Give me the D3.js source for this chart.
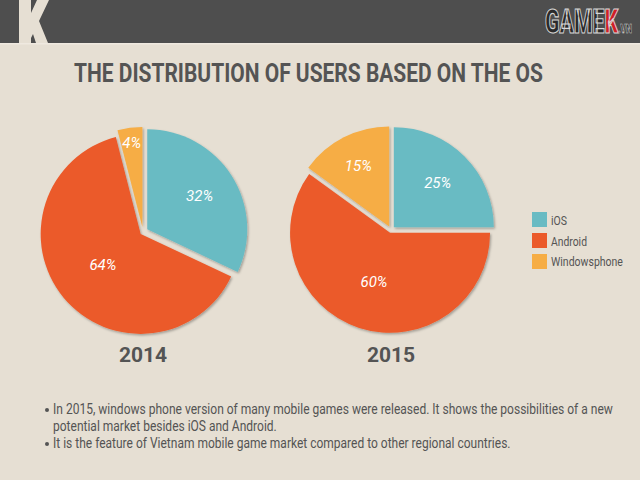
<!DOCTYPE html>
<html><head><meta charset="utf-8">
<script src="https://cdn.jsdelivr.net/npm/d3@7"></script>
<style>html,body{margin:0;padding:0;background:#e6dfd3;}svg{display:block;}</style>
</head><body>
<svg id="c" width="640" height="480"></svg>
<script>
// ---- data ----
const categories = ["iOS", "Android", "Windowsphone"];
const years = ["2014", "2015"];
const values2014 = [32, 64, 4];
const values2015 = [25, 60, 15];
const titleText = "THE DISTRIBUTION OF USERS BASED ON THE OS";
const notes = [
  ["In 2015, windows phone version of many mobile games were released. It shows the possibilities of a new",
   "potential market besides iOS and Android."],
  ["It is the feature of Vietnam mobile game market compared to other regional countries."]
];

// ---- style / layout ----
const colors = ["#69bbc3", "#eb5a2a", "#f6ad44"];
const textCol = "#545454";
const W = 640, H = 480;
const svg = d3.select("#c");

// condensed text helper: draws text then squeezes it horizontally to a target width
function condText(parent, x, y, str, width, attrs) {
  const g = parent.append("g");
  const t = g.append("text").attr("x", 0).attr("y", 0).text(str);
  Object.entries(attrs).forEach(([k, v]) => t.attr(k, v));
  const nat = t.node().getComputedTextLength();
  const sx = width / nat;
  g.attr("transform", `translate(${x},${y}) scale(${sx},1)`);
  return t;
}

svg.append("rect").attr("width", W).attr("height", H).attr("fill", "#e6dfd3");

const defs = svg.append("defs");
const f = defs.append("filter").attr("id", "sh").attr("x", "-20%").attr("y", "-20%").attr("width", "140%").attr("height", "140%");
f.append("feDropShadow").attr("dx", 1.2).attr("dy", 1.5).attr("stdDeviation", 1.2)
  .attr("flood-color", "#000").attr("flood-opacity", 0.3);

// header
svg.append("rect").attr("x", 0).attr("y", 0).attr("width", W).attr("height", 43).attr("fill", "#4e4e4e");
svg.append("rect").attr("x", 0).attr("y", 43).attr("width", W).attr("height", 1.5).attr("fill", "#efe9e0");
svg.append("path")
  .attr("d", "M19,0 L31,0 L31,13 L37,0 L49,0 L39,21 L48,43 L36,43 L33,34 L31,38 L31,43 L19,43 Z")
  .attr("fill", "#e6dfd3");

// GAMEK logo (single text with tspans)
const lt = condText(svg, 545, 33, "", 87, {});
lt.attr("font-family", "Roboto, sans-serif").attr("font-weight", 900).attr("font-size", 33)
  .attr("stroke", "#d8d8d8").attr("stroke-width", 1.2);
lt.append("tspan").attr("fill", "#2a2a2a").text("GAME");
lt.append("tspan").attr("fill", "#d11f26").text("K");
lt.append("tspan").attr("fill", "#2a2a2a").attr("font-size", 13).attr("stroke-width", 0.6).text(".VN");
{
  const nat = lt.node().getComputedTextLength();
  d3.select(lt.node().parentNode).attr("transform", `translate(545,33) scale(${87 / nat},1)`);
}

// title
condText(svg, 74, 82, titleText, 469, {
  "font-family": "Roboto, sans-serif", "font-weight": 700, "font-size": 26, "fill": textCol
});

// pies
const pies = [
  {values: values2014, year: years[0], cx: 143, cy: 232, r: 100, explode: [5, 3, 5], labelR: [0.67, 0.52, 0.9]},
  {values: values2015, year: years[1], cx: 391, cy: 230, r: 100, explode: [4, 3, 4], labelR: [0.66, 0.55, 0.72]}
];
const pieGen = d3.pie().sort(null).value(d => d).startAngle(0).endAngle(2 * Math.PI);

pies.forEach(p => {
  const g = svg.append("g").attr("transform", `translate(${p.cx},${p.cy})`);
  const arcs = pieGen(p.values);
  const arc = d3.arc().innerRadius(0).outerRadius(p.r);
  arcs.forEach((a, i) => {
    const mid = (a.startAngle + a.endAngle) / 2;
    const dx = Math.sin(mid) * p.explode[i], dy = -Math.cos(mid) * p.explode[i];
    const sg = g.append("g").attr("transform", `translate(${dx},${dy})`);
    sg.append("path").attr("d", arc(a)).attr("fill", colors[i]).attr("filter", "url(#sh)");
  });
  arcs.forEach((a, i) => {
    const mid = (a.startAngle + a.endAngle) / 2;
    const lr = p.r * p.labelR[i];
    g.append("text")
      .attr("x", Math.sin(mid) * lr).attr("y", -Math.cos(mid) * lr)
      .attr("text-anchor", "middle").attr("dominant-baseline", "central")
      .attr("font-family", "Roboto, sans-serif").attr("font-style", "italic").attr("font-size", 15)
      .attr("fill", "#ffffff").text(a.data + "%");
  });
  svg.append("text").attr("x", p.cx).attr("y", 362).attr("text-anchor", "middle")
    .attr("font-family", "Roboto, sans-serif").attr("font-weight", 700).attr("font-size", 21)
    .attr("fill", textCol).text(p.year);
});

// legend
const legLens = [16, 36, 72];
categories.forEach((c, i) => {
  svg.append("rect").attr("x", 532).attr("y", 212 + i * 21).attr("width", 15).attr("height", 15).attr("fill", colors[i]);
  condText(svg, 551, 225 + i * 20.7, c, legLens[i], {
    "font-family": "Roboto, sans-serif", "font-size": 13, "fill": textCol
  });
});

// notes
const noteLens = [[560, 224], [458]];
let ny = 414;
notes.forEach((lines, k) => {
  svg.append("circle").attr("cx", 47).attr("cy", ny - 4).attr("r", 2).attr("fill", textCol);
  lines.forEach((ln, j) => {
    condText(svg, 53, ny, ln, noteLens[k][j], {
      "font-family": "Roboto, sans-serif", "font-size": 14, "fill": textCol
    });
    ny += 17;
  });
});
</script>
</body></html>
